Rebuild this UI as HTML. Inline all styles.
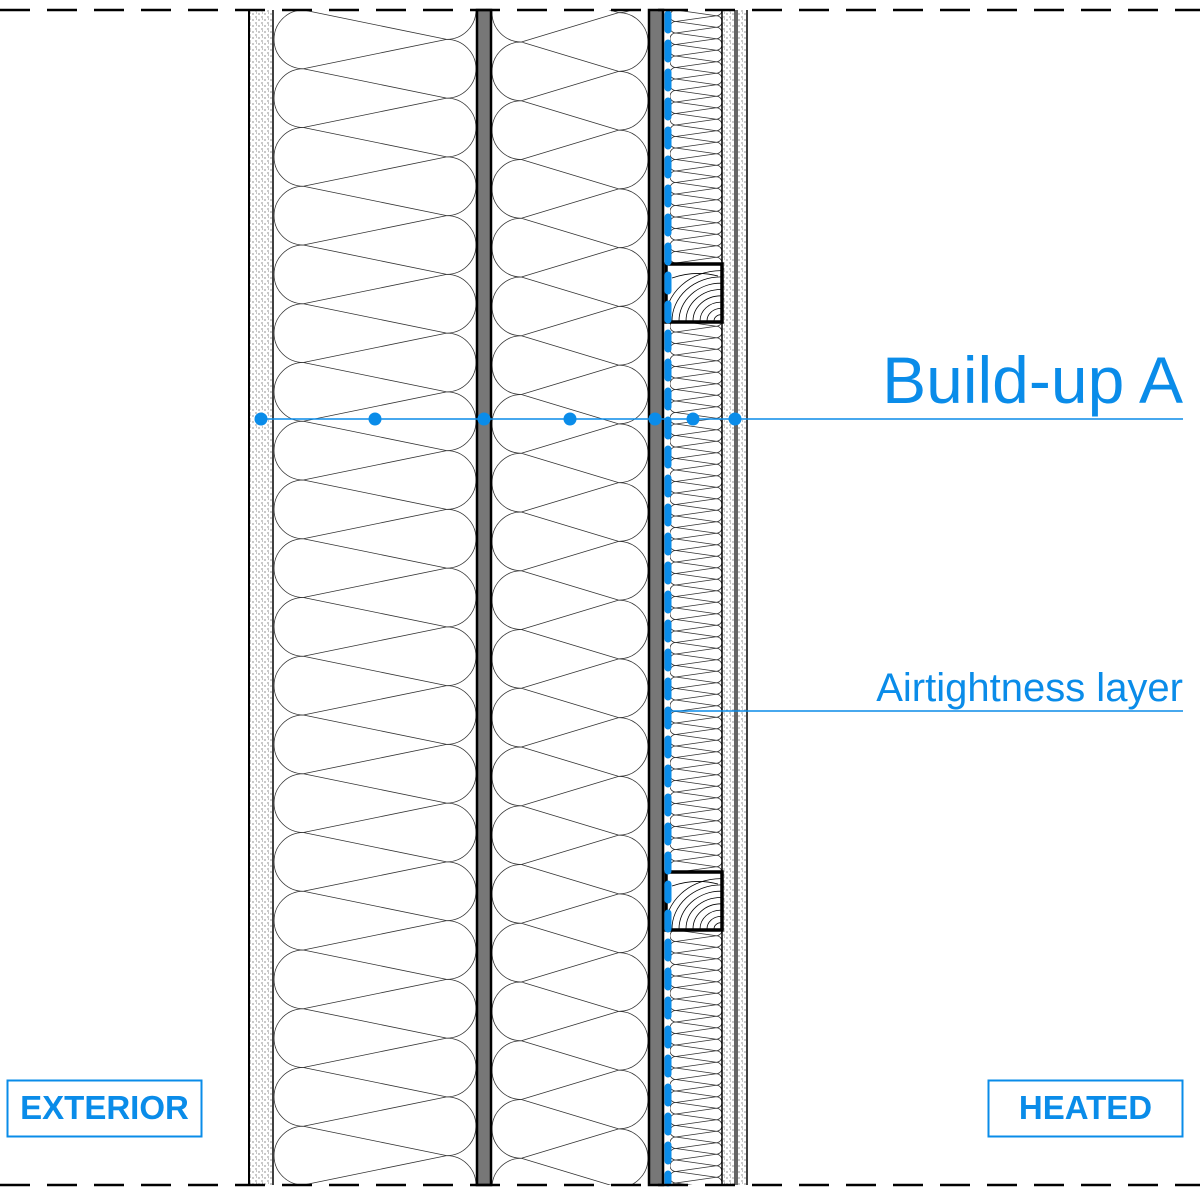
<!DOCTYPE html>
<html><head><meta charset="utf-8"><style>
html,body{margin:0;padding:0;background:#fff;width:1200px;height:1195px;overflow:hidden}
svg{display:block;position:absolute;left:0;top:0}
.t{font-family:"Liberation Sans",Arial,sans-serif;fill:#0a8ce9}
</style></head><body>
<svg id="s" width="1200" height="1195" viewBox="0 0 1200 1195" xmlns="http://www.w3.org/2000/svg">
<defs>
<pattern id="dots" width="6" height="6" patternUnits="userSpaceOnUse">
<circle cx="1" cy="2" r="0.6" fill="#444"/><circle cx="4" cy="5" r="0.6" fill="#444"/><circle cx="4.5" cy="1" r="0.5" fill="#666"/>
</pattern>
</defs>
<g id="ins" fill="none" stroke="#333" stroke-width="0.8"></g>
<rect x="250" y="10" width="23" height="1175" fill="url(#dots)"/>
<rect x="723" y="10" width="11" height="1175" fill="url(#dots)"/>
<rect x="737" y="10" width="10" height="1175" fill="url(#dots)"/>
<g stroke="#000">
<line x1="249" y1="10" x2="249" y2="1185" stroke-width="2"/>
<line x1="273" y1="10" x2="273" y2="1185" stroke-width="1.5"/>
<line x1="722" y1="10" x2="722" y2="1185" stroke-width="1.5"/>
<line x1="735" y1="10" x2="735" y2="1185" stroke-width="1.2"/>
<line x1="737" y1="10" x2="737" y2="1185" stroke-width="1.2"/>
<line x1="747" y1="10" x2="747" y2="1185" stroke-width="1.5"/>
</g>
<rect x="477" y="10" width="14" height="1175" fill="#777" stroke="#000" stroke-width="2.5"/>
<rect x="649" y="10" width="14" height="1175" fill="#777" stroke="#000" stroke-width="2.5"/>
<g id="bat"></g>
<line x1="668" y1="14" x2="668" y2="1183" stroke="#0a8ce9" stroke-width="7" stroke-linecap="round" stroke-dasharray="16 13"/>
<g stroke="#000" stroke-width="2.5" stroke-dasharray="30 17">
<line x1="0" y1="10" x2="1200" y2="10"/>
<line x1="0" y1="1185" x2="1200" y2="1185"/>
</g>
<line x1="255" y1="419" x2="1183" y2="419" stroke="#0a8ce9" stroke-width="1.5"/>
<g fill="#0a8ce9">
<circle cx="261" cy="419" r="6.5"/><circle cx="375" cy="419" r="6.5"/><circle cx="484" cy="419" r="6.5"/><circle cx="570" cy="419" r="6.5"/><circle cx="655" cy="419" r="6.5"/><circle cx="693" cy="419" r="6.5"/><circle cx="735" cy="419" r="6.5"/>
</g>
<text class="t" x="1183" y="403" font-size="66" text-anchor="end">Build-up A</text>
<line x1="668" y1="711" x2="1183" y2="711" stroke="#0a8ce9" stroke-width="1.5"/>
<text class="t" x="1183" y="701" font-size="40" text-anchor="end">Airtightness layer</text>
<rect x="7.5" y="1080.5" width="194" height="56" fill="none" stroke="#0a8ce9" stroke-width="2"/>
<text class="t" x="104.5" y="1119" font-size="33" font-weight="bold" text-anchor="middle">EXTERIOR</text>
<rect x="988.5" y="1080.5" width="194" height="56" fill="none" stroke="#0a8ce9" stroke-width="2"/>
<text class="t" x="1085.5" y="1119" font-size="33" font-weight="bold" text-anchor="middle">HEATED</text>
</svg>
<script>
var NS="http://www.w3.org/2000/svg";
function ins(L,R,a,P,y0,y1){
 var r=P/2,d="";
 for(var k=-2;k*P+a<y1+P;k++){
  var y=a+k*P;
  d+="M"+(L+r)+","+y+" A"+r+","+r+" 0 0 0 "+(L+r)+","+(y+P)+" ";
  var yr=y+r;
  d+="M"+(R-r)+","+yr+" A"+r+","+r+" 0 0 1 "+(R-r)+","+(yr+P)+" ";
  d+="M"+(L+r)+","+y+" L"+(R-r)+","+(y+r)+" ";
  d+="M"+(L+r)+","+y+" L"+(R-r)+","+(y-r)+" ";
 }
 var id="c"+L;
 var cp=document.createElementNS(NS,"clipPath");cp.id=id;
 var rc=document.createElementNS(NS,"rect");
 rc.setAttribute("x",L);rc.setAttribute("y",y0);rc.setAttribute("width",R-L);rc.setAttribute("height",y1-y0);
 cp.appendChild(rc);document.querySelector("defs").appendChild(cp);
 var p=document.createElementNS(NS,"path");p.setAttribute("d",d);p.setAttribute("clip-path","url(#"+id+")");
 document.getElementById("ins").appendChild(p);
}
ins(274,476,10,58.75,10,1185);
ins(492,648,42,58.75,10,1185);
ins(670,722,10,11.5,10,1185);
var b=document.getElementById("bat");
[264,872].forEach(function(y){
 var g='<rect x="666" y="'+y+'" width="56" height="58" fill="#fff" stroke="none"/>';
 for(var i=1;i<9;i++){var r=i*7;g+='<path d="M'+(721-r)+','+(y+57)+' A'+r+','+(r*0.9)+' 0 0 1 721,'+(y+57-r*0.9)+'" fill="none" stroke="#000" stroke-width="0.8"/>';}
 g+='<path d="M672,'+(y+14)+' Q695,'+(y+6)+' 718,'+(y+12)+'" fill="none" stroke="#000" stroke-width="0.8"/>';
 g+='<rect x="666" y="'+y+'" width="56" height="58" fill="none" stroke="#000" stroke-width="3.5"/>';
 b.innerHTML+=g;
});
</script>
</body></html>
